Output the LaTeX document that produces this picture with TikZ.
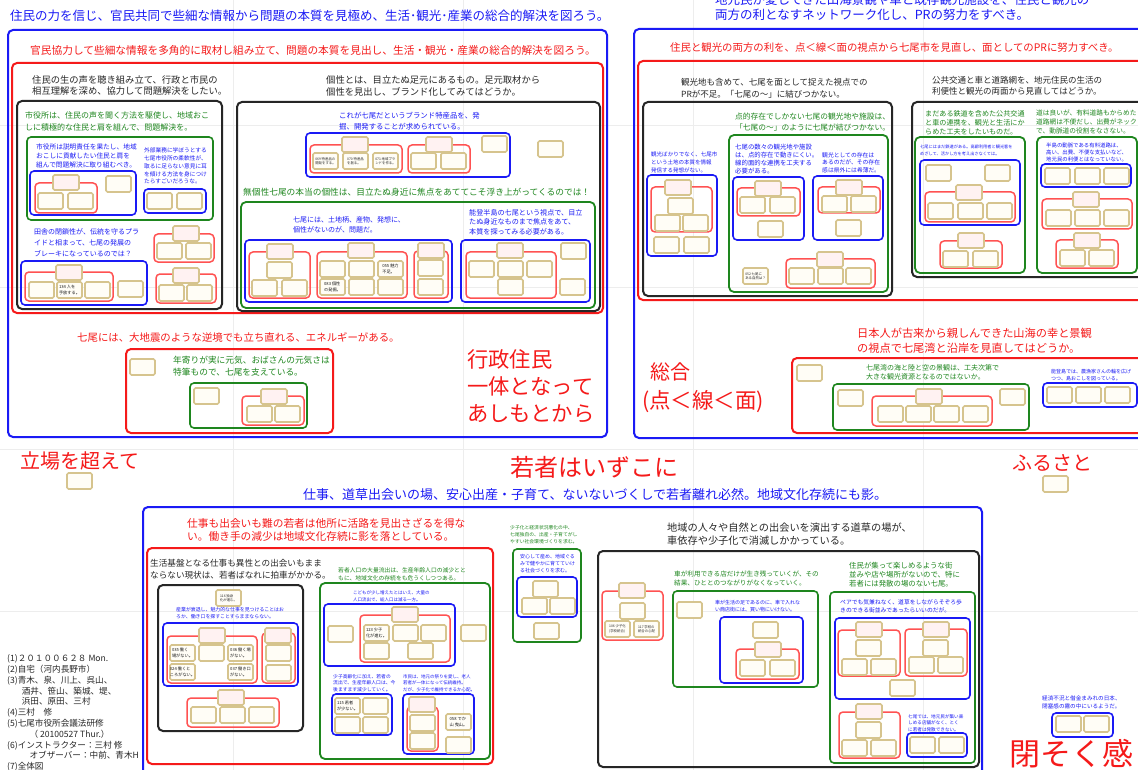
\documentclass[tikz,border=0pt]{standalone}
\usepackage{fontspec}
\setmainfont{Noto Sans CJK JP}
\definecolor{cb}{HTML}{1A1AF5}
\definecolor{cr}{HTML}{F51A1A}
\definecolor{crl}{HTML}{FF5252}
\definecolor{cg}{HTML}{1E861E}
\definecolor{ck}{HTML}{262626}
\definecolor{cbd}{HTML}{D6C48E}
\definecolor{cbf}{HTML}{FFFDF6}
\tikzset{
 oB/.style={draw=cb,line width=2pt,rounded corners=5pt},
 oR/.style={draw=cr,line width=2pt,rounded corners=5pt},
 oK/.style={draw=ck,line width=2pt,rounded corners=5pt},
 oG/.style={draw=cg,line width=1.8pt,rounded corners=5pt},
 iB/.style={draw=cb,line width=1.6pt,rounded corners=4pt},
 iR/.style={draw=crl,line width=1.5pt,rounded corners=4pt},
 iG/.style={draw=cg,line width=1.6pt,rounded corners=4pt},
 card/.style={draw=cbd,fill=cbf,line width=1.6pt,rounded corners=1.5pt},
 lcard/.style={draw=cbd,fill=red!5,line width=1.6pt,rounded corners=1.5pt},
 cardt/.style={inner sep=0pt,align=left,font=\fontsize{3.4pt}{4.3pt}\selectfont,text=black!85},
 cardbt/.style={inner sep=0pt,align=left,font=\fontsize{4.2pt}{5.4pt}\selectfont,text=black!90},
 grid line/.style={draw=black!7,line width=0.8pt},
}
\newcommand\Bx[5]{\draw[#1] (#2,#3) rectangle (#4,#5);}
\newcommand\Cd[3]{\draw[card] (#1,#2) rectangle ++(25,16); \node[cardt] at (#1+12.5,#2+8) {#3};}
\newcommand\Cb[3]{\draw[card] (#1,#2) rectangle ++(25,16); \node[cardbt] at (#1+12.5,#2+8) {#3};}
\newcommand\Lc[2]{\draw[lcard] (#1,#2) rectangle ++(26,15);}
\newcommand\Tx[6][west]{\node[anchor=#1,align=left,inner sep=0pt,text=#2,font=\fontsize{#3pt}{#4pt}\selectfont] at (#5) {#6};}
\begin{document}
\begin{tikzpicture}[x=1pt,y=-1pt]
\useasboundingbox (0,0) rectangle (1138,770);
\fill[white] (0,0) rectangle (1138,770);
\clip (0,0) rectangle (1138,770);
% faint page grid
\foreach \gx in {233,463,693,923} {\draw[grid line] (\gx,0) -- (\gx,770);}
\foreach \gy in {125,287,449,611} {\draw[grid line] (0,\gy) -- (1138,\gy);}

%================ LEFT TOP BLOCK ================
\Tx{cb}{12.5}{15}{10,16}{住民の力を信じ、官民共同で些細な情報から問題の本質を見極め、生活･観光･産業の総合的解決を図ろう。}
\Bx{oB}{8}{30}{607}{437}
\Tx{cr}{10.7}{13}{30,50}{官民協力して些細な情報を多角的に取材し組み立て、問題の本質を見出し、生活・観光・産業の総合的解決を図ろう。}
\Bx{oR}{12}{63}{603}{313}
\Tx{ck}{9.3}{11.5}{32,85.5}{住民の生の声を聴き組み立て、行政と市民の\\相互理解を深め、協力して問題解決をしたい。}
\Bx{oK}{17}{101}{222}{309}
\Tx{cg}{8}{12}{25,121}{市役所は、住民の声を聞く方法を駆使し、地域おこ\\しに積極的な住民と肩を組んで、問題解決を。}
\Bx{iG}{27}{137}{213}{220}
\Tx{cb}{6.7}{9}{36,156}{市役所は説明責任を果たし、地域\\おこしに貢献したい住民と肩を\\組んで問題解決に取り組むべき。}
\Tx{cb}{5.7}{7.8}{144,166}{外部業務に学ぼうとする\\七尾市役所の柔軟性が、\\取るに足らない意見に耳\\を傾ける方法を身につけ\\たらすごいだろうな。}
\Bx{iB}{30}{171}{136}{215}
\Bx{iR}{35}{183}{97}{213}
\Lc{53}{175}
\Cd{38}{193}{} \Cd{68}{193}{}
\Cd{106}{176}{}
\Bx{iB}{144}{189}{206}{213}
\Cd{147}{193}{} \Cd{177}{193}{}
\Tx{cb}{7}{11}{34,243}{田舎の閉鎖性が、伝統を守るプラ\\イドと相まって、七尾の発展の\\ブレーキになっているのでは？}
\Bx{iB}{21}{261}{147}{305}
\Bx{iR}{25}{272}{113}{301}
\Lc{56}{265}
\Cd{29}{282}{} \Cb{57}{282}{134 人を\\手放する。} \Cd{85}{282}{}
\Cd{118}{281}{}
\Bx{iR}{154}{234}{214}{262}
\Lc{173}{226}
\Cd{157}{243}{} \Cd{186}{243}{}
\Bx{iR}{156}{274}{216}{303}
\Lc{173}{268}
\Cd{159}{285}{} \Cd{187}{285}{}

\Tx{ck}{9.3}{11.7}{326,86}{個性とは、目立たぬ足元にあるもの。足元取材から\\個性を見出し、ブランド化してみてはどうか。}
\Bx{oK}{237}{102}{600}{311}
\Tx{cb}{7.4}{11}{339,121}{これが七尾だというブランド特産品を、発\\掘、開発することが求められている。}
\Bx{iB}{306}{133}{510}{177}
\Bx{iR}{310}{145}{402}{173}
\Lc{342}{137}
\Cd{313}{153}{069 特産品の\\開発をする。} \Cd{343}{153}{070 特産品\\を創る。} \Cd{373}{153}{071 地域ブラ\\ンドを作る。}
\Bx{iR}{408}{145}{470}{173}
\Lc{426}{137}
\Cd{411}{153}{} \Cd{441}{153}{}
\Cd{482}{136}{}
\Cd{538}{141}{}
\Tx{cg}{8.7}{11}{243,192}{無個性七尾の本当の個性は、目立たぬ身近に焦点をあててこそ浮き上がってくるのでは！}
\Bx{oG}{241}{202}{595}{308}
\Tx{cb}{7}{10.5}{293,225}{七尾には、土地柄、産物、発想に、\\個性がないのが、問題だ。}
\Tx{cb}{7.1}{9.3}{469,222}{能登半島の七尾という視点で、目立\\たぬ身近なものまで焦点をあて、\\本質を探ってみる必要がある。}
\Bx{iB}{245}{240}{452}{302}
\Bx{iR}{249}{252}{310}{298}
\Lc{267}{244}
\Cd{267}{262}{}
\Cd{252}{280}{} \Cd{282}{280}{}
\Bx{iR}{317}{252}{407}{298}
\Lc{348}{243}
\Cd{320}{261}{} \Cd{349}{261}{} \Cb{378}{261}{055 魅力\\不足。}
\Cb{320}{279}{083 個性\\の発掘。} \Cd{349}{279}{} \Cd{378}{279}{}
\Bx{iR}{414}{251}{448}{298}
\Lc{418}{243}
\Cd{418}{260}{} \Cd{418}{279}{}
\Bx{iB}{461}{240}{590}{302}
\Bx{iR}{466}{252}{556}{298}
\Lc{497}{243}
\Cd{469}{261}{} \Cd{498}{261}{} \Cd{527}{261}{}
\Cd{498}{279}{}
\Cd{561}{243}{} \Cd{560}{279}{}

%================ LEFT LOWER ================
\Tx{cr}{10.4}{13}{77,337}{七尾には、大地震のような逆境でも立ち直れる、エネルギーがある。}
\Bx{oR}{126}{349}{333}{433}
\Cd{130}{359}{}
\Tx{cg}{8.7}{12}{173,366}{年寄りが実に元気、おばさんの元気さは\\特筆もので、七尾を支えている。}
\Bx{iG}{190}{383}{307}{428}
\Cd{194}{388}{}
\Bx{iR}{242}{396}{304}{425}
\Lc{261}{389}
\Cd{247}{406}{} \Cd{275}{406}{}
\Tx{cr}{21.3}{27}{467,386}{行政住民\\一体となって\\あしもとから}

%================ RIGHT TOP BLOCK ================
\Tx{cb}{12.5}{15}{715,7.5}{地元民が愛してきた山海景観や車と既存観光施設を、住民と観光の\\両方の利となすネットワーク化し、PRの努力をすべき。}
\Bx{oB}{634}{29}{1150}{438}
\Tx{cr}{10.4}{13}{670,48}{住民と観光の両方の利を、点＜線＜面の視点から七尾市を見直し、面としてのPRに努力すべき。}
\Bx{oR}{638}{61}{1150}{300}
\Tx{ck}{8.5}{12.3}{681,88}{観光地も含めて、七尾を面として捉えた視点での\\PRが不足。「七尾の〜」に結びつかない。}
\Bx{oK}{643}{102}{892}{296}
\Tx{cg}{7.75}{10.5}{735,122}{点的存在でしかない七尾の観光地や施設は、\\「七尾の〜」のように七尾が結びつかない。}
\Bx{oG}{729}{135}{888}{292}
\Tx{cb}{5.5}{7.6}{651,162.5}{観光ばかりでなく、七尾市\\という土地の本質を情報\\発信する発想がない。}
\Bx{iB}{647}{175}{717}{256}
\Bx{iR}{651}{187}{712}{232}
\Lc{665}{180}
\Cd{668}{198}{}
\Cd{655}{215}{} \Cd{683}{215}{}
\Cd{654}{237}{} \Cd{684}{237}{}
\Tx{cb}{6.4}{8}{735,159}{七尾の数々の観光地や施設\\は、点的存在で動きにくい。\\線的面的な連携を工夫する\\必要がある。}
\Bx{iB}{733}{177}{804}{240}
\Bx{iR}{737}{188}{800}{216}
\Lc{755}{181}
\Cd{740}{197}{} \Cd{770}{197}{}
\Cd{758}{221}{}
\Tx{cb}{5.8}{7.6}{822,162.5}{観光としての存在は\\あるのだが、その存在\\感は県外には希薄だ。}
\Bx{iB}{813}{176}{883}{240}
\Bx{iR}{818}{187}{880}{213}
\Lc{836}{180}
\Cd{822}{196}{} \Cd{851}{196}{}
\Cd{836}{220}{}
\Bx{iR}{786}{259}{875}{288}
\Lc{817}{252}
\Cd{789}{268}{} \Cd{818}{268}{} \Cd{846}{268}{}
\Cd{743}{268}{052 七尾に\\ある自然は？}

\Tx{ck}{8.5}{11}{932,86}{公共交通と車と道路網を、地元住民の生活の\\利便性と観光の両面から見直してはどうか。}
\Bx{oK}{912}{102}{1150}{277}
\Tx{cg}{7.1}{9}{925,123}{まだある鉄道を含めた公共交通\\と車の連携を、観光と生活にか\\らめた工夫をしたいものだ。}
\Bx{oG}{915}{137}{1025}{273}
\Tx{cb}{4.2}{7}{920,150.5}{七尾にはまだ鉄道がある。高齢利用者と観光客を\\めざして、活かし方を考え出さなくては。}
\Bx{iB}{920}{160}{1020}{225}
\Cd{926}{165}{} \Cd{985}{165}{}
\Bx{iR}{925}{192}{1015}{222}
\Lc{956}{185}
\Cd{928}{203}{} \Cd{958}{203}{} \Cd{987}{203}{}
\Bx{iR}{940}{241}{1002}{268}
\Lc{958}{233}
\Cd{943}{251}{} \Cd{973}{251}{}
\Tx{cg}{6.7}{8.7}{1036,122}{道は良いが、有料道路もからめた\\道路網は不便だし、出費がネック\\で、動脈道の役割をなさない。}
\Bx{oG}{1037}{137}{1137}{273}
\Tx{cb}{5.4}{6.8}{1046,152.5}{半島の動脈である有料道路は、\\高い、出費、不便な支払いなど、\\地元民の利便とはなっていない。}
\Bx{iB}{1041}{164}{1131}{187}
\Cd{1045}{168}{} \Cd{1075}{168}{} \Cd{1104}{168}{}
\Bx{iR}{1042}{199}{1132}{229}
\Lc{1073}{192}
\Cd{1046}{210}{} \Cd{1075}{210}{} \Cd{1104}{210}{}
\Bx{iR}{1056}{240}{1118}{268}
\Lc{1074}{233}
\Cd{1060}{250}{} \Cd{1089}{250}{}

%================ RIGHT LOWER ================
\Tx{cr}{11.2}{15}{857,340.5}{日本人が古来から親しんできた山海の幸と景観\\の視点で七尾湾と沿岸を見直してはどうか。}
\Tx{cr}{20}{20}{650,372}{総合}
\Tx{cr}{21.5}{21.5}{642,402}{(点＜線＜面)}
\Bx{oR}{792}{358}{1150}{433}
\Cd{797}{365}{}
\Tx{cg}{7}{9}{866,372.5}{七尾湾の海と陸と空の景観は、工夫次第で\\大きな観光資源となるのではないか。}
\Bx{iG}{833}{384}{1029}{430}
\Cd{838}{390}{}
\Bx{iR}{872}{396}{992}{426}
\Lc{916}{389}
\Cd{878}{406}{} \Cd{906}{406}{} \Cd{934}{406}{} \Cd{963}{406}{}
\Cd{1000}{389}{}
\Tx{cb}{5}{7}{1051,375.5}{能登島では、農漁家さんの輪を広げ\\つつ、島おこしを図っている。}
\Bx{iB}{1043}{383}{1137}{407}
\Cd{1047}{387}{} \Cd{1076}{387}{} \Cd{1105}{387}{}

%================ MIDDLE LABELS ================
\Tx{cr}{20}{20}{20,461}{立場を超えて}
\Cd{67}{473}{}
\Tx{cr}{24}{24}{510,467}{若者はいずこに}
\Tx{cr}{20}{20}{1012,463}{ふるさと}
\Cd{1043}{476}{}

%================ BOTTOM BLOCK ================
\Tx{cb}{13}{13}{303,495}{仕事、道草出会いの場、安心出産・子育て、ないないづくしで若者離れ必然。地域文化存続にも影。}
\Bx{oB}{143}{507}{982}{790}
\Tx{cr}{10.7}{13}{187,530}{仕事も出会いも難の若者は他所に活路を見出さざるを得な\\い。働き手の減少は地域文化存続に影を落としている。}
\Bx{oR}{147}{548}{493}{764}
\Tx{ck}{8.6}{12}{150,569}{生活基盤となる仕事も異性との出会いもまま\\ならない現状は、若者ばなれに拍車がかかる。}
\Bx{oK}{158}{585}{303}{731}
\Cd{216}{590}{116 独身\\化が進む。}
\Tx{cb}{4.9}{7}{176,613.5}{産業が衰退し、魅力的な仕事を見つけることはお\\ろか、働き口を探すことすらままならない。}
\Bx{iB}{163}{623}{298}{686}
\Bx{iR}{167}{636}{257}{683}
\Lc{199}{628}
\Cb{170}{645}{035 働く\\場がない。} \Cd{199}{645}{} \Cb{228}{645}{036 働く場\\がない。}
\Cb{170}{664}{024 働くと\\ころがない。} \Cb{228}{664}{037 働き口\\がない。}
\Bx{iR}{262}{633}{295}{683}
\Lc{265}{628}
\Cd{266}{645}{} \Cd{266}{665}{}
\Bx{iR}{187}{698}{279}{727}
\Lc{218}{690}
\Cd{191}{707}{} \Cd{220}{707}{} \Cd{249}{707}{}

\Tx{cg}{5.8}{8}{338,574}{若者人口の大量流出は、生産年齢人口の減少とと\\もに、地域文化の存続をも危うくしつつある。}
\Bx{oG}{320}{583}{490}{759}
\Tx{cb}{4.5}{7}{353,596.5}{こどもが少し増えたとはいえ、大量の\\人口流出で、総人口は減る一方。}
\Bx{iB}{324}{604}{455}{666}
\Cd{328}{626}{}
\Bx{iR}{360}{615}{450}{662}
\Lc{392}{607}
\Cb{364}{625}{123 少子\\化が進む。} \Cd{393}{625}{} \Cd{421}{625}{}
\Cd{364}{643}{} \Cd{408}{643}{}
\Cd{461}{625}{}
\Tx{cb}{4.8}{6.7}{333,683}{少子高齢化に加え、若者の\\流出で、生産年齢人口は、今\\後ますます減少していく。}
\Bx{iB}{332}{694}{392}{735}
\Cb{335}{698}{115 若者\\が少ない。} \Cd{363}{698}{} \Cd{335}{717}{} \Cd{363}{717}{}
\Tx{cb}{4.5}{6.7}{403,683}{市民は、地元の祭りを愛し、老人\\若者が一体になって伝統維持。\\だが、少子化で維持できるか心配。}
\Bx{iB}{403}{694}{474}{754}
\Bx{iR}{407}{707}{438}{751}
\Lc{409}{697}
\Cd{410}{715}{} \Cd{410}{733}{}
\Cb{446}{714}{058 でか\\山 曳山。}
\Cd{446}{737}{}

\Tx{cg}{4.8}{7}{510,535}{少子化と経済状況悪化の中、\\七尾独自の、出産・子育てがし\\やすい社会環境づくりを求む。}
\Bx{iG}{513}{549}{581}{642}
\Tx{cb}{5}{7}{520,564}{安心して産め、地域ぐる\\みで健やかに育てていけ\\る社会づくりを求む。}
\Bx{iB}{517}{577}{577}{617}
\Cd{533}{581}{} \Cd{522}{598}{} \Cd{550}{598}{}
\Cd{534}{623}{}

\Tx{ck}{10.2}{12.5}{667,534}{地域の人々や自然との出会いを演出する道草の場が、\\車依存や少子化で消滅しかかっている。}
\Bx{oK}{598}{551}{979}{767}
\Bx{iR}{602}{591}{663}{640}
\Lc{619}{583}
\Cd{620}{603}{}
\Cd{605}{621}{106 少子化\\(学校統合)} \Cd{634}{621}{117 学校の\\統合の心配}
\Tx{cg}{6.6}{8.7}{674,578.5}{車が利用できる店だけが生き残っていくが、その\\結果、ひととのつながりがなくなっていく。}
\Bx{iG}{673}{591}{818}{687}
\Cd{677}{602}{}
\Tx{cb}{5}{7.5}{715,606}{車が生活の足であるのに、車で入れな\\い商店街には、買い物にいけない。}
\Bx{iB}{720}{617}{803}{683}
\Cd{753}{622}{}
\Bx{iR}{736}{649}{799}{679}
\Lc{755}{642}
\Cd{740}{660}{} \Cd{770}{660}{}
\Tx{cg}{7.4}{9}{849,575}{住民が集って楽しめるような街\\並みや店や場所がないので、特に\\若者には発散の場のない七尾。}
\Bx{iG}{830}{592}{975}{763}
\Tx{cb}{5.8}{7.5}{840,606.5}{ペアでも気兼ねなく、道草をしながらそぞろ歩\\きのできる街並みであったらいいのだが。}
\Bx{iB}{835}{618}{970}{699}
\Bx{iR}{838}{630}{900}{676}
\Lc{856}{622}
\Cd{856}{640}{}
\Cd{842}{659}{} \Cd{871}{659}{}
\Bx{iR}{905}{629}{967}{676}
\Lc{923}{622}
\Cd{923}{640}{}
\Cd{909}{657}{} \Cd{938}{657}{}
\Cd{890}{680}{}
\Bx{iR}{839}{712}{900}{758}
\Lc{856}{704}
\Cd{856}{722}{}
\Cd{842}{740}{} \Cd{871}{740}{}
\Tx{cb}{4.6}{6.4}{908,723}{七尾では、地元民が集い楽\\しめる店舗がなく、とく\\に若者は発散できない。}
\Bx{iB}{907}{733}{967}{757}
\Cd{910}{737}{} \Cd{939}{737}{}

\Tx{cb}{5.6}{8}{1042,702}{経済不況と借金まみれの日本、\\閉塞感の霧の中にいるようだ。}
\Bx{iB}{1052}{713}{1113}{737}
\Cd{1056}{716}{} \Cd{1084}{716}{}
\Tx{cr}{31}{31}{1009,754}{閉そく感}

%================ NOTES ================
\Tx{ck}{8.6}{10.8}{7,713}{(1)２０１００６２８ Mon.\\(2)自宅（河内長野市）\\(3)青木、泉、川上、呉山、\\\hspace*{1.7em}酒井、笹山、築城、堤、\\\hspace*{1.7em}浜田、原田、三村\\(4)三村　修\\(5)七尾市役所会議法研修\\\hspace*{2.6em}（ 20100527 Thur.）\\(6)インストラクター：三村 修\\\hspace*{2.6em}オブザーバー：中前、青木H\\(7)全体図}
\end{tikzpicture}
\end{document}
